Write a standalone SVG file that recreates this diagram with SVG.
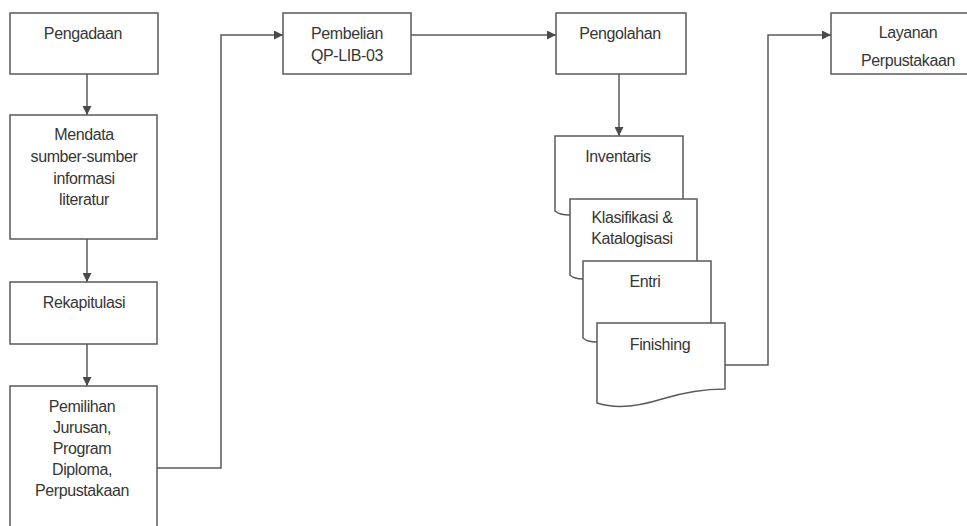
<svg xmlns="http://www.w3.org/2000/svg" width="967" height="526" viewBox="0 0 967 526">
<defs>
<style>
.box{fill:#fff;stroke:#5a5a5a;stroke-width:1.5}
.t{font-family:"Liberation Sans",Arial,sans-serif;font-size:16px;fill:#363636;text-anchor:middle;letter-spacing:-0.4px}
.c{fill:none;stroke:#5a5a5a;stroke-width:1.5}
</style>
<marker id="ah" viewBox="0 0 10 10" refX="10" refY="5" markerWidth="9" markerHeight="9" markerUnits="userSpaceOnUse" orient="auto">
<path d="M0,0 L10,5 L0,10 Z" fill="#4a4a4a"/>
</marker>
</defs>
<rect width="967" height="526" fill="#fff"/>
<g id="connectors">
<path class="c" d="M87,74 V115" marker-end="url(#ah)"/>
<path class="c" d="M87,239 V282" marker-end="url(#ah)"/>
<path class="c" d="M87,344 V386" marker-end="url(#ah)"/>
<path class="c" d="M157,468 H221 V35 H283" marker-end="url(#ah)"/>
<path class="c" d="M411,35 H556" marker-end="url(#ah)"/>
<path class="c" d="M619,74 V136" marker-end="url(#ah)"/>
<path class="c" d="M725,365 H768 V35 H831" marker-end="url(#ah)"/>
</g>
<g id="pengadaan">
<rect class="box" x="10" y="13" width="148" height="61"/>
<text class="t" x="83" y="39">Pengadaan</text>
</g>
<g id="mendata">
<rect class="box" x="10" y="115" width="147" height="124"/>
<text class="t" x="84" y="140">Mendata</text>
<text class="t" x="84" y="162">sumber-sumber</text>
<text class="t" x="84" y="184">informasi</text>
<text class="t" x="84" y="205">literatur</text>
</g>
<g id="rekapitulasi">
<rect class="box" x="10" y="282" width="147" height="62"/>
<text class="t" x="84" y="308">Rekapitulasi</text>
</g>
<g id="pemilihan">
<rect class="box" x="10" y="386" width="147" height="150"/>
<text class="t" x="82" y="412">Pemilihan</text>
<text class="t" x="82" y="433">Jurusan,</text>
<text class="t" x="82" y="454">Program</text>
<text class="t" x="82" y="475">Diploma,</text>
<text class="t" x="82" y="496">Perpustakaan</text>
</g>
<g id="pembelian">
<rect class="box" x="283" y="13" width="128" height="61"/>
<text class="t" x="347" y="39">Pembelian</text>
<text class="t" x="347" y="61">QP-LIB-03</text>
</g>
<g id="pengolahan">
<rect class="box" x="556" y="13" width="130" height="61"/>
<text class="t" x="620" y="39">Pengolahan</text>
</g>
<g id="layanan">
<rect class="box" x="831" y="13" width="160" height="61"/>
<text class="t" x="908" y="38">Layanan</text>
<text class="t" x="908" y="66">Perpustakaan</text>
</g>
<g id="inventaris">
<path class="box" d="M683,199 V136 H555 V211 C558,214 563,215 570,215"/>
<text class="t" x="618" y="162">Inventaris</text>
</g>
<g id="klasifikasi">
<path class="box" d="M697,261 V199 H570 V275 C573,278 577,279 583,279"/>
<text class="t" x="632" y="223">Klasifikasi &amp;</text>
<text class="t" x="632" y="244">Katalogisasi</text>
</g>
<g id="entri">
<path class="box" d="M711,323 V261 H583 V338 C586,341 590,342 597,342"/>
<text class="t" x="645" y="287">Entri</text>
</g>
<g id="finishing">
<path class="box" d="M597,323 H725 V389 C705,389 685,392 662,399 C640,406 618,410 597,403 Z"/>
<text class="t" x="660" y="350">Finishing</text>
</g>
</svg>
